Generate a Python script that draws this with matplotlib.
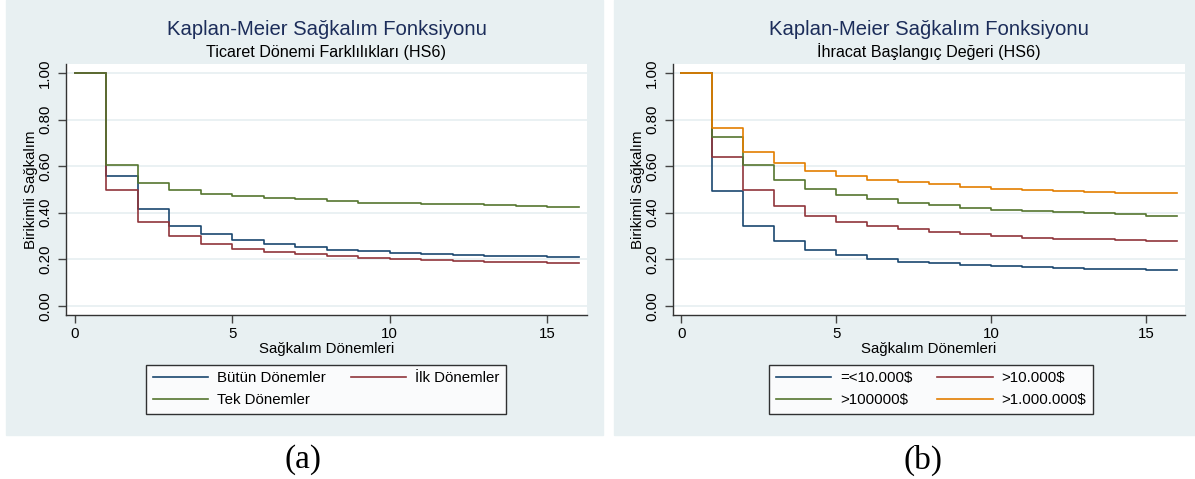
import numpy as np
import matplotlib
matplotlib.use("Agg")
import matplotlib.pyplot as plt
from matplotlib.patches import Rectangle

plt.rcParams["font.family"] = ["Liberation Sans", "DejaVu Sans"]

periods = np.arange(0, 17)

# panel (a) - ticaret donemi
butun = [1.0, 0.556, 0.414, 0.345, 0.307, 0.281, 0.264, 0.251, 0.241, 0.234,
         0.228, 0.222, 0.218, 0.215, 0.212, 0.211]
ilk = [1.0, 0.496, 0.360, 0.298, 0.264, 0.246, 0.232, 0.222, 0.213, 0.206,
       0.201, 0.195, 0.192, 0.189, 0.186, 0.185]
tek = [1.0, 0.607, 0.529, 0.496, 0.480, 0.471, 0.463, 0.457, 0.450, 0.444,
       0.441, 0.438, 0.436, 0.433, 0.428, 0.425]

# panel (b) - ihracat baslangic degeri
v_10k_alt = [1.0, 0.494, 0.345, 0.279, 0.241, 0.218, 0.202, 0.189, 0.182, 0.175,
             0.170, 0.166, 0.162, 0.159, 0.156, 0.155]
v_10k = [1.0, 0.639, 0.499, 0.430, 0.388, 0.362, 0.342, 0.328, 0.317, 0.307,
         0.299, 0.292, 0.288, 0.285, 0.282, 0.278]
v_100k = [1.0, 0.728, 0.605, 0.540, 0.501, 0.476, 0.458, 0.444, 0.433, 0.421,
          0.413, 0.407, 0.403, 0.398, 0.393, 0.388]
v_1m = [1.0, 0.766, 0.662, 0.612, 0.580, 0.557, 0.542, 0.533, 0.524, 0.511,
        0.504, 0.499, 0.494, 0.490, 0.487, 0.486]

labels_a = ["Bütün Dönemler", "İlk Dönemler", "Tek Dönemler"]
labels_b = ["=<10.000$", ">10.000$", ">100000$", ">1.000.000$"]

navy = "#1A476F"
maroon = "#90353B"
green = "#55752F"
orange = "#E37E00"
bg = "#E8F0F2"
title_col = "#1C2D5A"
fs = 10.8

W, H = 1195, 479
fig = plt.figure(figsize=(W / 100, H / 100), dpi=100)

# panel backgrounds
fig.patches.append(Rectangle((6 / W, 1 - 435 / H), 597 / W, 435 / H,
                             transform=fig.transFigure, color=bg, zorder=-10))
fig.patches.append(Rectangle((614 / W, 1 - 435 / H), 581 / W, 435 / H,
                             transform=fig.transFigure, color=bg, zorder=-10))


def km_panel(rect, series, labels, colors, subtitle, leg_center, order):
    ax = fig.add_axes(rect)
    ax.set_zorder(1)
    ax.set_facecolor("white")
    for s, lab, c in zip(series, labels, colors):
        ax.plot(periods, s + [s[-1]], drawstyle="steps-post", color=c, lw=1.2, label=lab)
    ax.set_xlim(-0.27, 16.26)
    ax.set_ylim(-0.04, 1.04)
    ax.set_yticks([0, 0.2, 0.4, 0.6, 0.8, 1.0])
    ax.set_yticklabels(["%.2f" % v for v in ax.get_yticks()], rotation=90, va="center")
    ax.set_xticks([0, 5, 10, 15])
    ax.grid(axis="y", color=bg, lw=1.3)
    ax.set_axisbelow(True)
    for sp in ["top", "right"]:
        ax.spines[sp].set_visible(False)
    for sp in ["left", "bottom"]:
        ax.spines[sp].set_color("#333333")
        ax.spines[sp].set_linewidth(1.0)
    ax.tick_params(direction="out", length=6, width=1, color="#444444",
                   labelsize=fs, pad=3)
    ax.tick_params(axis="y", pad=4)
    ax.set_xlabel("Sağkalım Dönemleri", fontsize=fs, labelpad=0)
    ax.set_ylabel("Birikimli Sağkalım", fontsize=fs, labelpad=0)
    ax.text(0.5, 1 + 35 / 251, "Kaplan-Meier Sağkalım Fonksiyonu", transform=ax.transAxes,
            ha="center", va="center", fontsize=14.6, color=title_col)
    ax.text(0.5, 1 + 12 / 251, subtitle, transform=ax.transAxes,
            ha="center", va="center", fontsize=11.6, color="black")
    h, l = ax.get_legend_handles_labels()
    leg = ax.legend([h[i] for i in order], [l[i] for i in order], ncol=2,
                    loc="center", bbox_to_anchor=leg_center, bbox_transform=fig.transFigure,
                    fontsize=fs, frameon=True, fancybox=False, handlelength=3.7,
                    labelspacing=0.5, columnspacing=1.65, handletextpad=0.6,
                    borderpad=0.45, borderaxespad=0)
    leg.get_frame().set_edgecolor("black")
    leg.get_frame().set_linewidth(1.0)
    return ax


km_panel([66 / W, 164 / H, 521 / W, 251 / H], [butun, ilk, tek], labels_a,
         [navy, maroon, green], "Ticaret Dönemi Farklılıkları (HS6)",
         (326 / W, 1 - 389 / H), [0, 2, 1])
km_panel([673 / W, 164 / H, 512 / W, 251 / H], [v_10k_alt, v_10k, v_100k, v_1m], labels_b,
         [navy, maroon, green, orange], "İhracat Başlangıç Değeri (HS6)",
         (931 / W, 1 - 389 / H), [0, 2, 1, 3])

fig.text(303 / W, 1 - 460 / H, "(a)", ha="center", va="center", fontsize=24,
         family=["Liberation Serif", "DejaVu Serif"])
fig.text(923 / W, 1 - 460 / H, "(b)", ha="center", va="center", fontsize=24,
         family=["Liberation Serif", "DejaVu Serif"])

fig.savefig("out.png", dpi=100)
